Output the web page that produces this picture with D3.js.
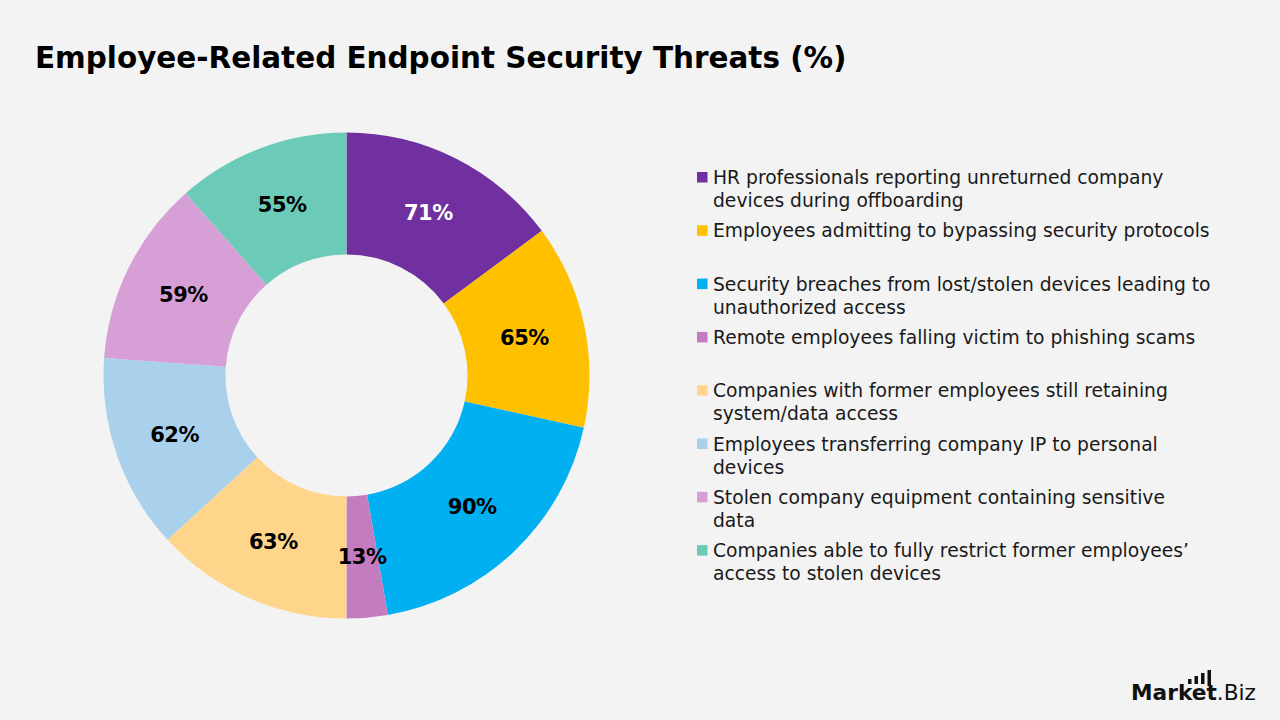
<!DOCTYPE html>
<html>
<head>
<meta charset="utf-8">
<script src="https://cdn.jsdelivr.net/npm/d3@7"></script>
<style>
  html, body { margin: 0; padding: 0; background: #f3f3f3; }
  #chart { width: 1280px; height: 720px; }
</style>
</head>
<body>
<div id="chart"></div>
<script>
// Data
const categories = [
  "HR professionals reporting unreturned company\ndevices during offboarding",
  "Employees admitting to bypassing security protocols",
  "Security breaches from lost/stolen devices leading to\nunauthorized access",
  "Remote employees falling victim to phishing scams",
  "Companies with former employees still retaining\nsystem/data access",
  "Employees transferring company IP to personal\ndevices",
  "Stolen company equipment containing sensitive\ndata",
  "Companies able to fully restrict former employees’\naccess to stolen devices"
];
const values = [71, 65, 90, 13, 63, 62, 59, 55];
const colors = ["#7030a0", "#ffc000", "#00b0f0", "#c27cbf", "#ffd58b", "#a9d1eb", "#d6a0d7", "#6ccbb8"];
const labelColors = ["#ffffff", "#000", "#000", "#000", "#000", "#000", "#000", "#000"];

const width = 1280, height = 720;
const fontFamily = "'DejaVu Sans', 'Open Sans', sans-serif";

const svg = d3.select("#chart")
  .append("svg")
  .attr("width", width)
  .attr("height", height)
  .style("font-family", fontFamily);

svg.append("rect").attr("width", width).attr("height", height).attr("fill", "#f3f3f3");

// fit a text element to a target width by changing font-size
function fitWidth(sel, target) {
  const node = sel.node();
  const fs = parseFloat(sel.style("font-size"));
  const w = node.getComputedTextLength();
  sel.style("font-size", (fs * target / w) + "px");
}

// Title
const title = svg.append("text")
  .attr("x", 35)
  .attr("y", 68)
  .style("font-size", "30px")
  .style("font-weight", "bold")
  .attr("fill", "#000")
  .text("Employee-Related Endpoint Security Threats (%)");
fitWidth(title, 812);

// Donut
const cx = 346.5, cy = 375.5;
const outerR = 243, innerR = 121;

const pie = d3.pie().sort(null).value(d => d)(values);
const arc = d3.arc().innerRadius(innerR).outerRadius(outerR);

const ctr = svg.append("g").attr("transform", `translate(${cx}, ${cy})`);

ctr.selectAll("path")
  .data(pie)
  .enter()
  .append("path")
  .attr("d", arc)
  .attr("fill", (d, i) => colors[i]);

ctr.selectAll("text.val")
  .data(pie)
  .enter()
  .append("text")
  .attr("class", "val")
  .attr("x", d => arc.centroid(d)[0])
  .attr("y", d => arc.centroid(d)[1])
  .attr("text-anchor", "middle")
  .attr("dominant-baseline", "central")
  .style("font-size", "21px")
  .style("font-weight", "bold")
  .style("letter-spacing", "-0.5px")
  .attr("fill", (d, i) => labelColors[i])
  .text(d => d.data + "%");

// Legend
const legendX = 697, legendY = 184, rowH = 53.3, lineH = 23;
const legend = svg.append("g");

const items = legend.selectAll("g")
  .data(categories)
  .enter()
  .append("g")
  .attr("transform", (d, i) => `translate(${legendX}, ${legendY + i * rowH})`);

items.append("rect")
  .attr("x", 0)
  .attr("y", -12)
  .attr("width", 10.5)
  .attr("height", 10.5)
  .attr("fill", (d, i) => colors[i]);

const legendText = items.append("text")
  .attr("x", 16)
  .attr("y", 0)
  .style("font-size", "17px")
  .attr("fill", "#1a1a1a");

legendText.selectAll("tspan")
  .data(d => d.split("\n"))
  .enter()
  .append("tspan")
  .attr("x", 16)
  .attr("dy", (d, i) => i === 0 ? 0 : lineH)
  .text(d => d);

// scale legend font so longest reference line matches its width
const probe = legendText.filter((d, i) => i === 1);
const probeW = probe.node().getComputedTextLength();
legendText.style("font-size", (17 * 497 / probeW) + "px");

// Logo
const logo = svg.append("g");
const logoText = logo.append("text")
  .attr("x", 1131)
  .attr("y", 700)
  .style("font-size", "21px")
  .attr("fill", "#111");
logoText.append("tspan").style("font-weight", "bold").text("Market");
logoText.append("tspan").text(".Biz");
fitWidth(logoText, 125);

const barTops = [679, 676, 673];
logo.selectAll("rect.bar")
  .data(barTops)
  .enter()
  .append("rect")
  .attr("class", "bar")
  .attr("x", (d, i) => 1188 + i * 6.5)
  .attr("y", d => d)
  .attr("width", 3.5)
  .attr("height", d => 684 - d)
  .attr("fill", "#111");
logo.append("rect")
  .attr("x", 1207.5)
  .attr("y", 670)
  .attr("width", 3.5)
  .attr("height", 16)
  .attr("fill", "#111");
</script>
</body>
</html>
